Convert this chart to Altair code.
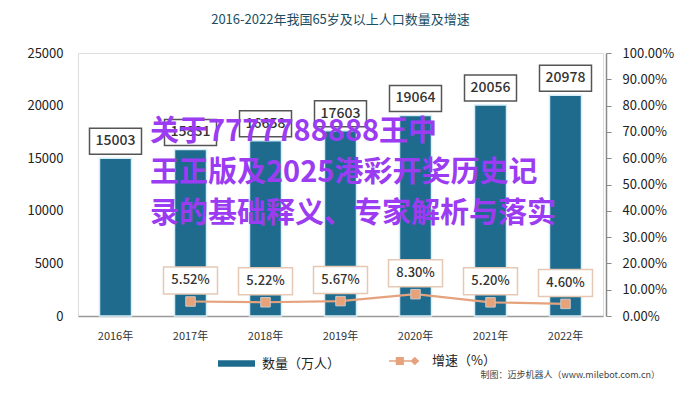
import altair as alt
import pandas as pd

years = ["2016年", "2017年", "2018年", "2019年", "2020年", "2021年", "2022年"]
population = [15003, 15831, 16658, 17603, 19064, 20056, 20978]
growth_pct = [None, 5.52, 5.22, 5.67, 8.30, 5.20, 4.60]
growth_labels = ["", "5.52%", "5.22%", "5.67%", "8.30%", "5.20%", "4.60%"]

title_text = "2016-2022年我国65岁及以上人口数量及增速"
bar_series = "数量（万人）"
line_series = "增速（%）"
credit_text = "制图：迈步机器人（www.milebot.com.cn）"
overlay_lines = ["关于7777788888王中", "王正版及2025港彩开奖历史记", "录的基础释义、专家解析与落实"]

FONT = "Noto Sans CJK SC"
BAR_COLOR = "#1f6b8e"
LINE_COLOR = "#e5a27c"

df = pd.DataFrame({
    "year": years,
    "pop": population,
    "rate": [None if g is None else g / 100 for g in growth_pct],
    "rate_label": growth_labels,
    "s1": bar_series,
    "s2": line_series,
})
df_rate = df.dropna(subset=["rate"])

x = alt.X("year:N", sort=years, title=None,
          scale=alt.Scale(paddingInner=0, paddingOuter=0),
          axis=alt.Axis(labelAngle=0, ticks=False, labelPadding=14, labelFontSize=11,
                        labelColor="#333333", domainColor="#9a9a9a", domainWidth=1.5,
                        labelFont=FONT))

y_left = alt.Y("pop:Q", title=None,
               scale=alt.Scale(domain=[0, 25000], nice=False),
               axis=alt.Axis(values=[0, 5000, 10000, 15000, 20000, 25000], format="d",
                             grid=False, ticks=False, domain=False, labelPadding=15,
                             labelFontSize=13, labelColor="#222222", labelFont=FONT))

box_path = "M-1,-0.5H1V0.5H-1Z"

bars = alt.Chart(df).mark_bar(size=32, stroke="#d6eef6", strokeWidth=1.5).encode(
    x=x,
    y=y_left,
    color=alt.Color("s1:N", title=None,
                    scale=alt.Scale(domain=[bar_series], range=[BAR_COLOR]),
                    legend=alt.Legend(orient="none", legendX=140, legendY=292,
                                      symbolType="M-1,-0.17H1V0.17H-1Z", symbolSize=1369,
                                      symbolStrokeWidth=0, labelOffset=7, labelFontSize=13,
                                      labelColor="#222222", labelFont=FONT, padding=0)),
)

bar_boxes = alt.Chart(df).mark_point(shape=box_path, size=2704, filled=True, fill="white",
                                     stroke="#555555", strokeWidth=1.5, opacity=1,
                                     yOffset=-17).encode(x=x, y=y_left)

bar_text = alt.Chart(df).mark_text(yOffset=-17, baseline="middle", fontSize=14,
                                   color="#333333", font=FONT, fontWeight=500).encode(
    x=x, y=y_left, text=alt.Text("pop:Q", format="d"))

left = alt.layer(bars, bar_boxes, bar_text)

y_right = alt.Y("rate:Q", title=None,
                scale=alt.Scale(domain=[0, 1], nice=False),
                axis=alt.Axis(orient="right", format=".2%",
                              values=[i / 10 for i in range(11)], grid=False,
                              offset=3, tickSize=5, tickColor="#8a8a8a", domainColor="#8a8a8a",
                              domainWidth=1.5, labelPadding=11, labelFontSize=13,
                              labelColor="#222222", labelFont=FONT))

legend_line_path = ("M-1,0H1M-0.5,-0.22H-0.06V0.22H-0.5Z"
                    "M0.5,0L0.72,-0.22L0.94,0L0.72,0.22Z")

line = alt.Chart(df_rate).mark_line(strokeWidth=2.2).encode(
    x=x,
    y=y_right,
    stroke=alt.Stroke("s2:N", title=None,
                      scale=alt.Scale(domain=[line_series], range=[LINE_COLOR]),
                      legend=alt.Legend(orient="none", legendX=310, legendY=292,
                                        symbolType=legend_line_path, symbolSize=900,
                                        symbolFillColor=LINE_COLOR, symbolStrokeWidth=1.5,
                                        labelOffset=12, labelFontSize=13,
                                        labelColor="#222222", labelFont=FONT, padding=0)),
)

markers = alt.Chart(df_rate).mark_point(shape="square", size=90, filled=True,
                                        fill="#e8a27a", stroke="#c9c9c9", strokeWidth=1,
                                        opacity=1).encode(x=x, y=y_right)

rate_boxes = alt.Chart(df_rate).mark_point(shape=box_path, size=2916, filled=True,
                                           fill="white", stroke="#e6c9b5", strokeWidth=1.5,
                                           opacity=1, yOffset=-21).encode(x=x, y=y_right)

rate_text = alt.Chart(df_rate).mark_text(yOffset=-21, baseline="middle", fontSize=13,
                                         color="#333333", font=FONT, fontWeight=500).encode(
    x=x, y=y_right, text="rate_label:N")

right = alt.layer(line, markers, rate_boxes, rate_text)

credit = alt.Chart(pd.DataFrame({"t": [credit_text]})).mark_text(
    align="right", baseline="middle", fontSize=9, color="#444444", font=FONT).encode(
    x=alt.value(582), y=alt.value(322), text="t:N")

overlay = alt.Chart(pd.DataFrame({"t": [0]})).mark_text(
    text=overlay_lines, align="left", baseline="top", fontSize=29, fontWeight="bold",
    lineHeight=41, color="#9b3cf3", font=FONT).encode(
    x=alt.value(72), y=alt.value(65))

chart = alt.layer(left, right, credit, overlay).resolve_scale(
    y="independent"
).properties(
    width=525, height=263,
    padding={"left": 70, "top": 45, "right": 89, "bottom": 69},
    autosize=alt.AutoSizeParams(type="none"),
    title=alt.TitleParams(title_text, fontSize=13, color="#1b4e62", font=FONT,
                          fontWeight="normal", anchor="middle", offset=20),
).configure_view(fill="#eaeaea", stroke=None).configure(background="white")

chart.save("out.html", embed_options={"renderer": "svg", "actions": False})
